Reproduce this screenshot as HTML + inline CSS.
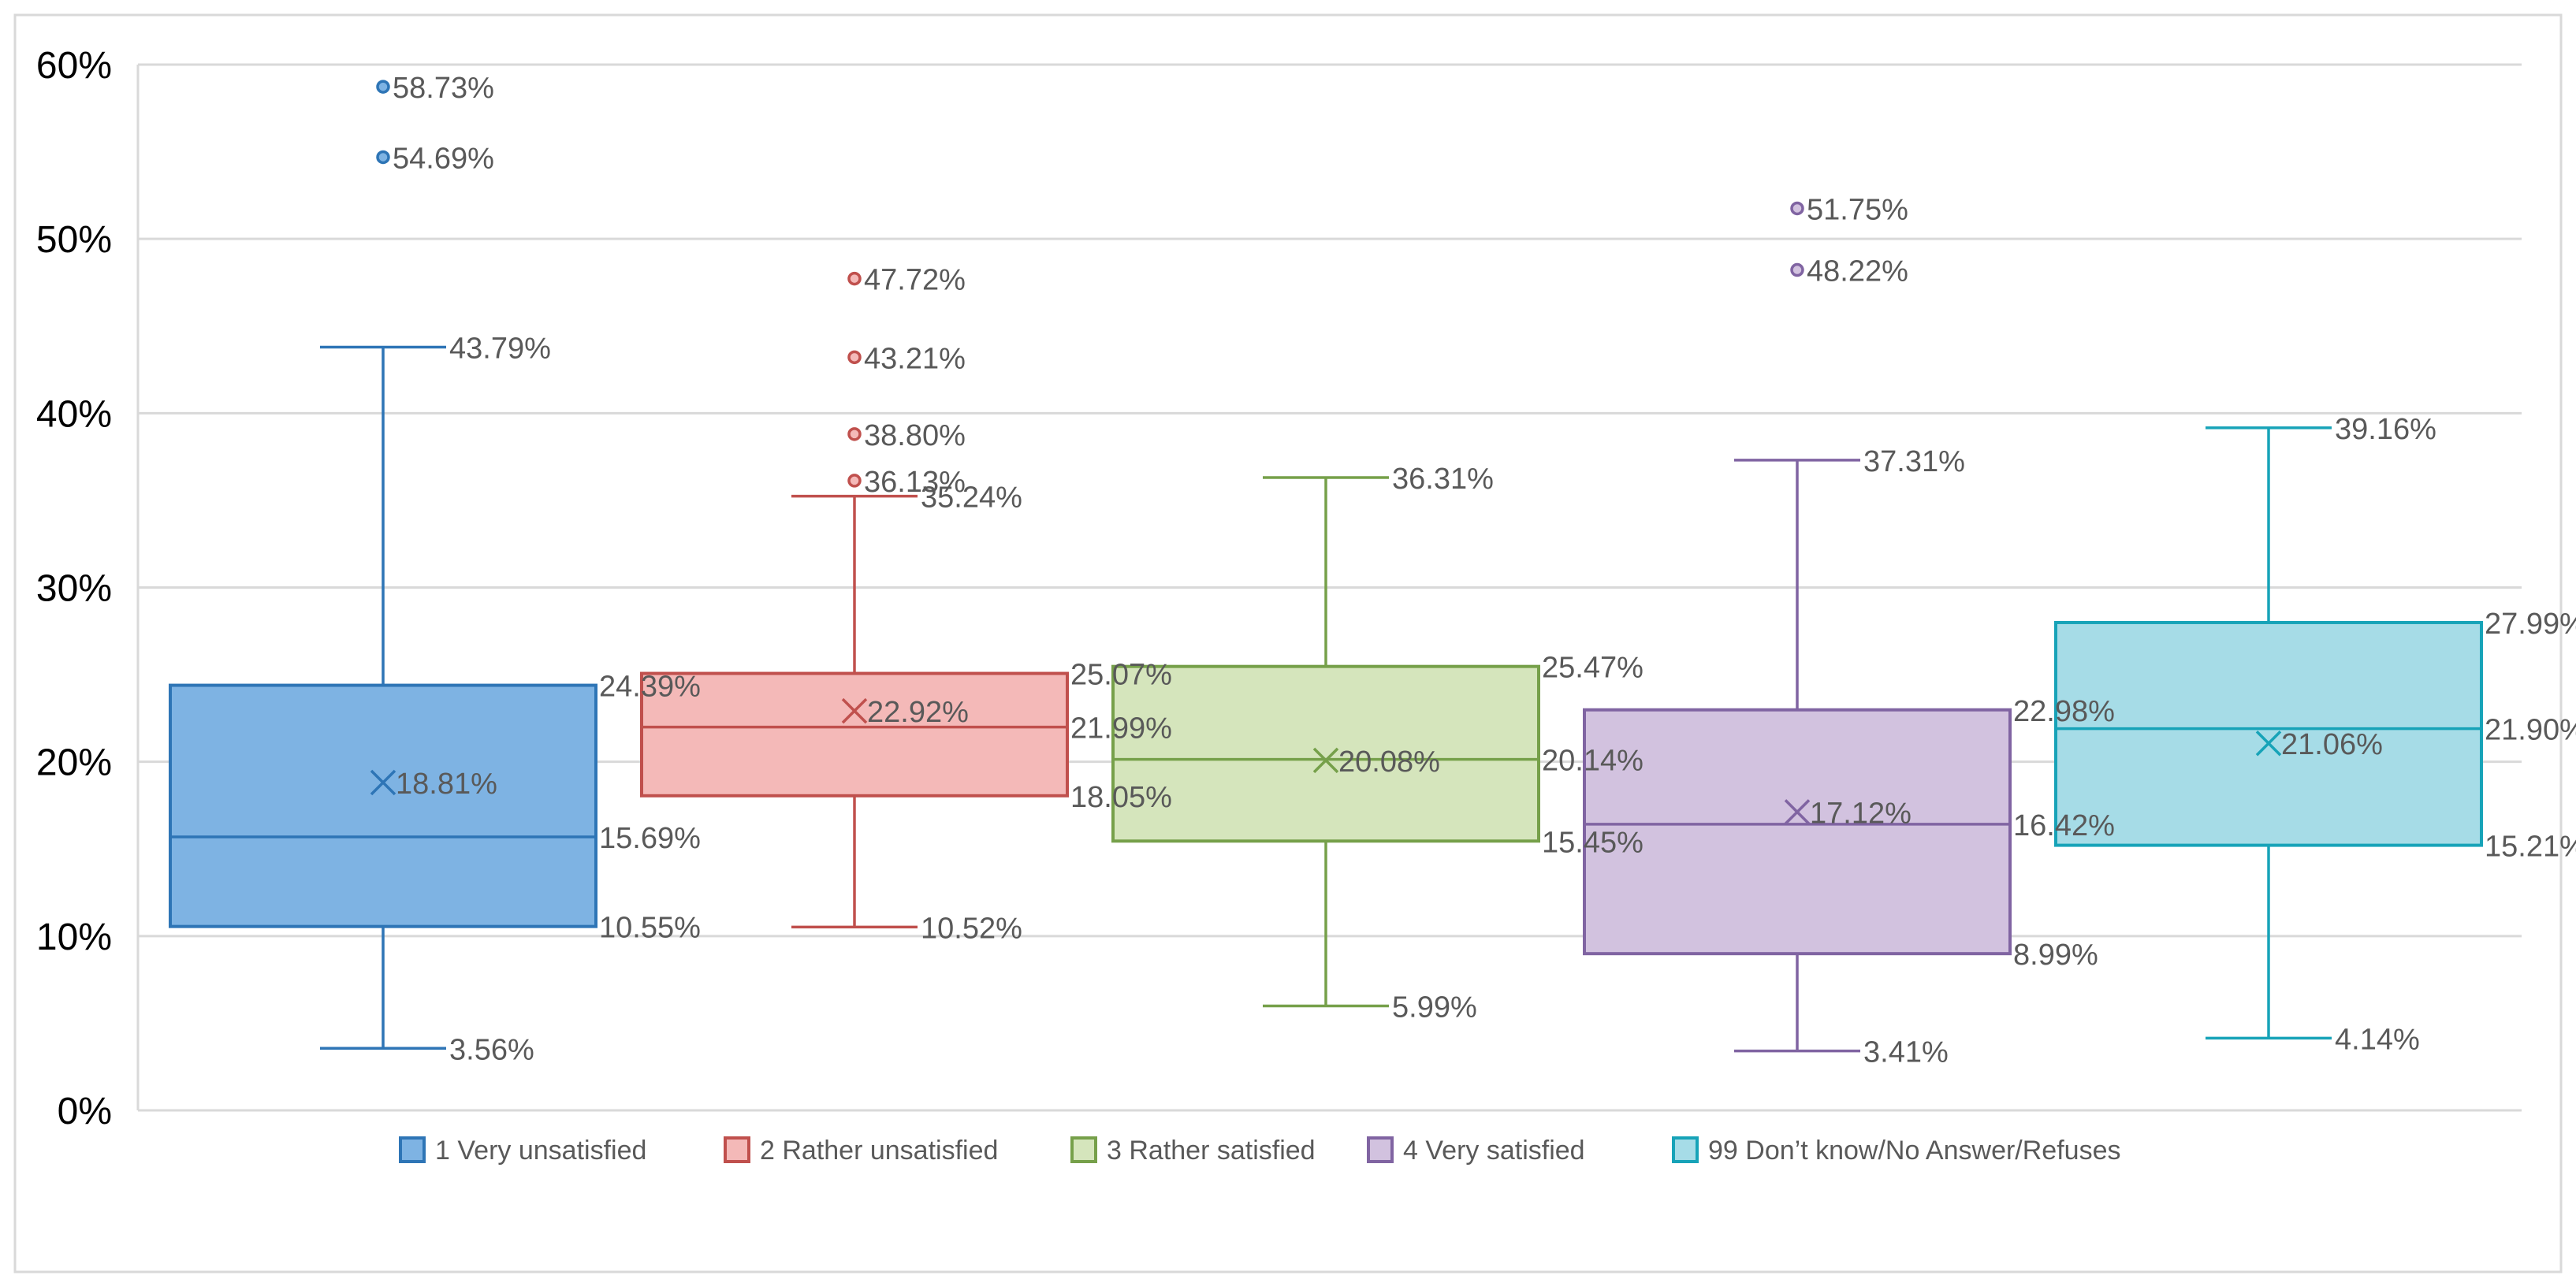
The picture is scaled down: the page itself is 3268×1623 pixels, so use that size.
<!DOCTYPE html>
<html><head><meta charset="utf-8"><style>
body{margin:0;background:#fff}
svg{display:block;font-family:"Liberation Sans",sans-serif}
</style></head><body>
<svg id="chart" width="3268" height="1623" viewBox="0 0 3268 1623" xmlns="http://www.w3.org/2000/svg">
<rect x="19" y="19" width="3230" height="1595" fill="#fff" stroke="#d9d9d9" stroke-width="3"/>
<g id="grid"></g><g id="yticks"></g><g id="boxes"></g><g id="labels"></g><g id="legend"></g>
</svg>
<script>
const categories=["1 Very unsatisfied","2 Rather unsatisfied","3 Rather satisfied","4 Very satisfied","99 Don’t know/No Answer/Refuses"];
const mins=[3.56,10.52,5.99,3.41,4.14];
const q1s=[10.55,18.05,15.45,8.99,15.21];
const medians=[15.69,21.99,20.14,16.42,21.90];
const q3s=[24.39,25.07,25.47,22.98,27.99];
const maxs=[43.79,35.24,36.31,37.31,39.16];
const means=[18.81,22.92,20.08,17.12,21.06];
const outliers=[[54.69,58.73],[36.13,38.80,43.21,47.72],[],[48.22,51.75],[]];
const yTicks=[0,10,20,30,40,50,60];
const strokes=["#2E75B6","#C0504D","#76A04A","#8064A2","#17A3B8"];
const fills=["#7EB3E3","#F4B9B8","#D5E5BC","#D2C2DF","#A6DCE7"];
const NS="http://www.w3.org/2000/svg";
const X0=175,X1=3199,Y0=1409,Y60=82;
const y=v=>Y0-(v/60)*(Y0-Y60);
const band=598,firstCenter=486;
const cx=i=>firstCenter+band*i;
function mk(tag,attrs,parent,text){const e=document.createElementNS(NS,tag);for(const k in attrs)e.setAttribute(k,attrs[k]);if(text!==undefined)e.textContent=text;parent.appendChild(e);return e;}
const grid=document.getElementById('grid'),yt=document.getElementById('yticks'),bx=document.getElementById('boxes'),lb=document.getElementById('labels'),lg=document.getElementById('legend');
yTicks.forEach(t=>{
 const l=mk('line',{x1:X0,x2:X1,y1:y(t),y2:y(t),stroke:'#d9d9d9','stroke-width':3},grid);
 
 
 const tx=mk('text',{x:142,y:y(t)+17,'text-anchor':'end','font-size':48,fill:'#000'},yt,t+'%');
 
 
});
mk('line',{x1:X0,x2:X0,y1:Y60,y2:Y0,stroke:'#d9d9d9','stroke-width':3},grid);
const LC='#595959',FS=38,bw=540,cw=160;
function lab(x,yy,txt){const t=mk('text',{x:x,y:yy,'font-size':FS,fill:LC},lb,txt);}
categories.forEach((c,i)=>{
 const g=mk('g',{},bx);
 
 
 const x=cx(i),s=strokes[i],L=x-bw/2,R=x+bw/2;
 mk('line',{x1:x,x2:x,y1:y(maxs[i]),y2:y(q3s[i]),stroke:s,'stroke-width':3.5},g);
 mk('line',{x1:x,x2:x,y1:y(q1s[i]),y2:y(mins[i]),stroke:s,'stroke-width':3.5},g);
 mk('line',{x1:x-cw/2,x2:x+cw/2,y1:y(maxs[i]),y2:y(maxs[i]),stroke:s,'stroke-width':3.5},g);
 mk('line',{x1:x-cw/2,x2:x+cw/2,y1:y(mins[i]),y2:y(mins[i]),stroke:s,'stroke-width':3.5},g);
 mk('rect',{x:L,y:y(q3s[i]),width:bw,height:y(q1s[i])-y(q3s[i]),fill:fills[i],stroke:s,'stroke-width':4},g);
 mk('line',{x1:L,x2:R,y1:y(medians[i]),y2:y(medians[i]),stroke:s,'stroke-width':3.5},g);
 const my=y(means[i]);
 mk('path',{d:`M${x-15} ${my-15}L${x+15} ${my+15}M${x-15} ${my+15}L${x+15} ${my-15}`,stroke:s,'stroke-width':3.5,fill:'none'},g);
 outliers[i].forEach(o=>{mk('circle',{cx:x,cy:y(o),r:7,fill:fills[i],stroke:s,'stroke-width':3.5},g);lab(x+12,y(o)+14,o.toFixed(2)+'%');});
 lab(x+cw/2+4,y(maxs[i])+14,maxs[i].toFixed(2)+'%');
 lab(x+cw/2+4,y(mins[i])+14,mins[i].toFixed(2)+'%');
 lab(x+16,my+14,means[i].toFixed(2)+'%');
 lab(R+4,y(q3s[i])+14,q3s[i].toFixed(2)+'%');
 lab(R+4,y(medians[i])+14,medians[i].toFixed(2)+'%');
 lab(R+4,y(q1s[i])+14,q1s[i].toFixed(2)+'%');
});
const lx=[508,920,1360,1736,2123];
categories.forEach((c,i)=>{
 const g=mk('g',{},lg);
 
 
 mk('rect',{x:lx[i],y:1444,width:30,height:30,fill:fills[i],stroke:strokes[i],'stroke-width':4},g);
 mk('text',{x:lx[i]+44,y:1471,'font-size':34,fill:LC},g,c);
});
</script>
</body></html>
